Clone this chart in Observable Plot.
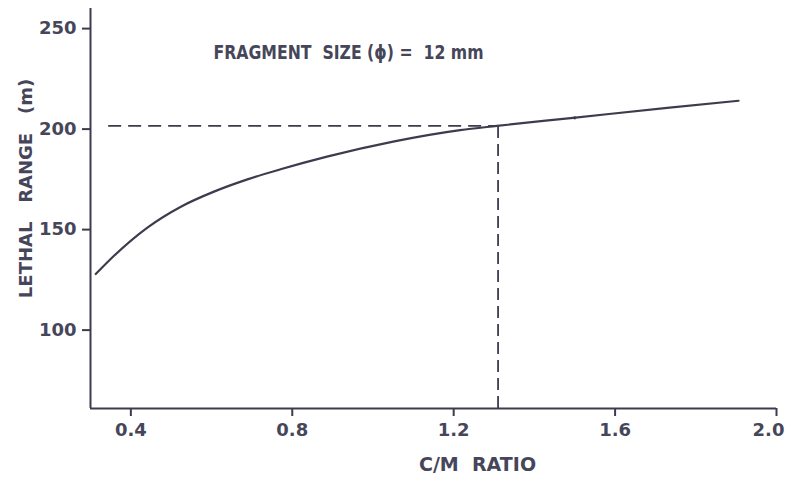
<!DOCTYPE html>
<html>
<head>
<meta charset="utf-8">
<script src="https://cdn.jsdelivr.net/npm/d3@7"></script>
<script src="https://cdn.jsdelivr.net/npm/@observablehq/plot@0.6"></script>
<style>
  html, body { margin: 0; padding: 0; background: #fff; }
  #chart svg { display: block; }
</style>
</head>
<body>
<div id="chart"></div>
<script>
// ---- data ----
const cmRatio     = [0.313, 0.359, 0.441, 0.524, 0.606, 0.689, 0.771, 0.886, 1.053, 1.216, 1.307, 1.496, 1.729, 1.906];
const lethalRange = [127.9, 137.1, 151.0, 161.4, 168.9, 175.0, 180.0, 186.3, 193.9, 199.5, 201.6, 205.6, 210.6, 214.1];
const xTicks = [0.4, 0.8, 1.2, 1.6, 2.0];
const yTicks = [100, 150, 200, 250];
const xDomain = [0.3, 2.0];
const yDomain = [61, 260];
const refRatio = 1.31;      // dashed vertical reference
const refRange = 201.6;     // dashed horizontal reference
const refStart = 0.345;     // where the horizontal dashed line begins
const markPoint = [{x: 1.5, y: 205.6}];
const titleText = ["FRAGMENT  SIZE (ϕ) =  12 mm"];
const xLabel = ["C/M  RATIO"];
const yLabel = ["LETHAL   RANGE   (m)"];

const curve = cmRatio.map((x, i) => ({x, y: lethalRange[i]}));

const ink = "#3c3c4e";
const textInk = "#46465a";
const font = '"DejaVu Sans", sans-serif';

const chart = Plot.plot({
  width: 789,
  height: 479,
  marginLeft: 90,
  marginRight: 13,
  marginTop: 8,
  marginBottom: 71,
  style: {fontFamily: font, fontSize: "18px", fontWeight: "bold", color: textInk, background: "#fff"},
  x: {domain: xDomain},
  y: {domain: yDomain},
  marks: [
    // tick marks for every x tick
    Plot.axisX({ticks: xTicks, tickSize: 8, tickFormat: () => "", label: null, stroke: ink, strokeWidth: 2}),
    // tick labels (the last one nudged left so it stays inside the page)
    Plot.axisX({ticks: xTicks.slice(0, -1), tickSize: 0, tickPadding: 15, tickFormat: d => d.toFixed(1), label: null}),
    Plot.axisX({ticks: xTicks.slice(-1), tickSize: 0, tickPadding: 15, tickFormat: d => d.toFixed(1), label: null, dx: -8}),
    Plot.axisY({ticks: yTicks, tickSize: 8, tickPadding: 6, label: null, stroke: ink, strokeWidth: 2}),
    Plot.ruleY([yDomain[0]], {x1: xDomain[0], x2: xDomain[1], stroke: ink, strokeWidth: 2}),
    Plot.ruleX([xDomain[0]], {y1: yDomain[0], y2: yDomain[1], stroke: ink, strokeWidth: 2}),
    Plot.ruleY([refRange], {x1: refStart, x2: refRatio, stroke: ink, strokeWidth: 1.8, strokeDasharray: "13,7"}),
    Plot.ruleX([refRatio], {y1: yDomain[0], y2: refRange, stroke: ink, strokeWidth: 1.8, strokeDasharray: "12,6"}),
    Plot.line(curve, {x: "x", y: "y", curve: "monotone-x", stroke: ink, strokeWidth: 2.2}),
    Plot.dot(markPoint, {x: "x", y: "y", r: 1.6, fill: ink, stroke: null}),
    Plot.text(titleText, {frameAnchor: "top-left", text: d => d, textAnchor: "start", lineAnchor: "middle", dx: 123, dy: 44, fontSize: 19, fill: textInk}),
    Plot.text(xLabel, {frameAnchor: "bottom", text: d => d, textAnchor: "middle", lineAnchor: "middle", dx: 44, dy: 56, fontSize: 19, fill: textInk}),
    Plot.text(yLabel, {frameAnchor: "left", text: d => d, textAnchor: "middle", lineAnchor: "middle", rotate: -90, dx: -64, dy: -20, fontSize: 18, fill: textInk})
  ]
});
// condense the title like the plotter lettering of the original
d3.select(chart).selectAll("text")
  .filter(function() { return this.textContent === titleText[0]; })
  .attr("textLength", 270)
  .attr("lengthAdjust", "spacingAndGlyphs");
document.getElementById("chart").appendChild(chart);
</script>
</body>
</html>
